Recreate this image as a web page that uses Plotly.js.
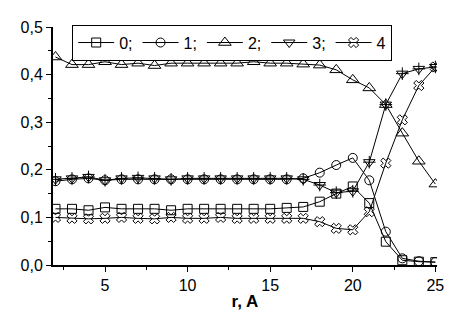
<!DOCTYPE html>
<html>
<head>
<meta charset="utf-8">
<script src="https://cdn.plot.ly/plotly-3.0.1.min.js"></script>
<style>html,body{margin:0;padding:0;background:#fff}#chart{width:468px;height:323px}</style>
</head>
<body>
<div id="chart"></div>
<script>
var r = [2,3,4,5,6,7,8,9,10,11,12,13,14,15,16,17,18,19,20,21,22,23,24,25];
var s0 = [0.118,0.118,0.115,0.121,0.118,0.118,0.118,0.115,0.118,0.118,0.118,0.118,0.118,0.118,0.12,0.122,0.133,0.15,0.165,0.13,0.049,0.01,0.007,0.006];
var s1 = [0.176,0.18,0.182,0.178,0.18,0.18,0.18,0.18,0.18,0.18,0.18,0.18,0.18,0.18,0.18,0.182,0.194,0.21,0.225,0.178,0.07,0.014,0.008,0.006];
var s2 = [0.437,0.421,0.421,0.427,0.421,0.424,0.419,0.424,0.424,0.424,0.424,0.424,0.427,0.424,0.424,0.422,0.42,0.41,0.389,0.372,0.337,0.277,0.218,0.17];
var s3 = [0.18,0.182,0.185,0.178,0.182,0.183,0.182,0.18,0.182,0.182,0.182,0.182,0.182,0.182,0.182,0.18,0.168,0.152,0.155,0.216,0.337,0.402,0.412,0.416];
var s4 = [0.1,0.098,0.097,0.098,0.1,0.098,0.097,0.1,0.098,0.098,0.1,0.098,0.098,0.098,0.098,0.098,0.091,0.077,0.074,0.112,0.214,0.305,0.377,0.416];
var names = ['0;','1;','2;','3;','4'];
var series = [s0,s1,s2,s3,s4];
var symbols = ['square-open','circle-open','triangle-up-open','triangle-down-open','x-open'];
var sizes = [9,9,11,10,9];

var traces = series.map(function(s,i){
  return {x:r, y:s, name:names[i], type:'scatter', mode:'lines+markers',
    line:{color:'#000', width:1},
    marker:{symbol:symbols[i], size:sizes[i], color:'#000', line:{width:1, color:'#000'}}};
});
traces.push({x:r, y:s3, type:'scatter', mode:'markers', showlegend:false, hoverinfo:'skip',
  marker:{symbol:'cross-thin-open', size:9, color:'#000', line:{width:1, color:'#000'}}});

var layout = {
  width:468, height:323,
  margin:{l:53, r:31, t:27, b:58},
  paper_bgcolor:'#fff', plot_bgcolor:'#fff',
  separators:',.',
  font:{family:'Liberation Sans, Arial, sans-serif', color:'#000', size:15},
  showlegend:true,
  legend:{orientation:'h', x:0.05, y:1.01, xanchor:'left', yanchor:'top',
    bordercolor:'#000', borderwidth:1, bgcolor:'#fff',
    font:{size:16, color:'#000'}, itemwidth:36, tracegroupgap:0},
  xaxis:{range:[1.85,25.1], showgrid:false, zeroline:false, showline:true, linecolor:'#000', linewidth:2,
    ticks:'outside', ticklen:5, tickwidth:1, tickcolor:'#000', tickvals:[5,10,15,20,25],
    minor:{tickvals:[2.5,7.5,12.5,17.5,22.5], ticks:'outside', ticklen:3, tickcolor:'#000'},
    tickfont:{size:16}, title:{text:'<b>r, A</b>', font:{size:17}, standoff:2}},
  yaxis:{range:[0,0.5], showgrid:false, zeroline:false, showline:true, linecolor:'#000', linewidth:2,
    ticks:'outside', ticklen:5, tickwidth:1, tickcolor:'#000', dtick:0.1, tickformat:'.1f',
    minor:{dtick:0.05, ticks:'outside', ticklen:3, tickcolor:'#000'},
    tickfont:{size:16}}
};
Plotly.newPlot('chart', traces, layout, {staticPlot:true});
</script>
</body>
</html>
